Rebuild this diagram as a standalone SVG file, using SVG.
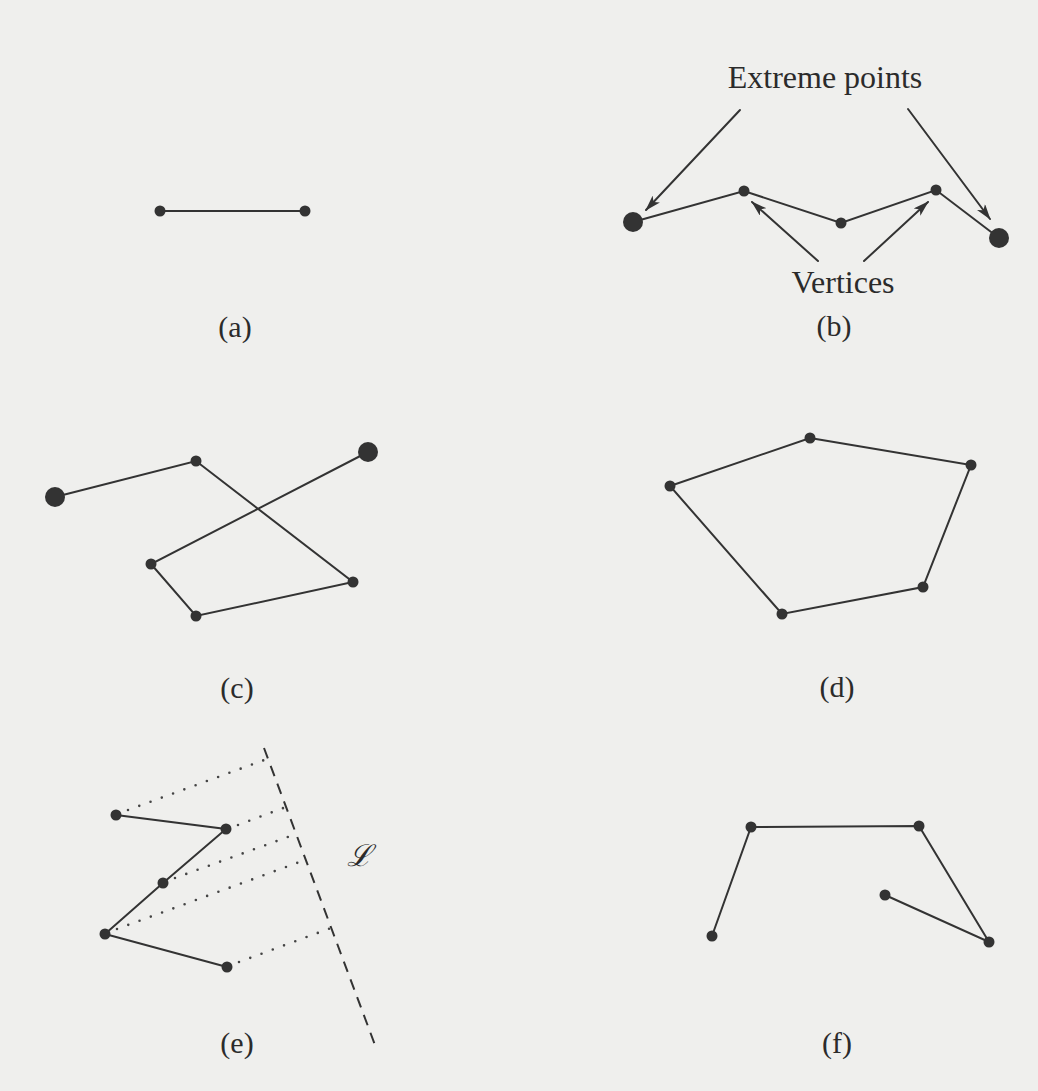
<svg xmlns="http://www.w3.org/2000/svg" width="1038" height="1091" viewBox="0 0 1038 1091">
<style>
.e{stroke:#333;stroke-width:2;fill:none;stroke-linecap:round}
.v{fill:#333}
.t{font-family:"Liberation Serif","DejaVu Serif",serif;fill:#2b2b2b;font-size:30px;text-anchor:middle}
.big{font-size:32px}
.dot{stroke:#444;stroke-width:2.6;fill:none;stroke-dasharray:0 12;stroke-linecap:round}
.dash{stroke:#333;stroke-width:2;fill:none;stroke-dasharray:11 8}
</style>
<defs>
<marker id="ah" markerWidth="16" markerHeight="10" refX="15" refY="5" orient="auto" markerUnits="userSpaceOnUse">
<path d="M0,0 L16,5 L0,10 L4,5 Z" fill="#333"/>
</marker>
</defs>
<rect width="1038" height="1091" fill="#efefed"/>

<g id="connectors">
<!-- a -->
<line class="e" x1="160" y1="211" x2="305" y2="211"/>
<!-- b -->
<polyline class="e" points="633,222 744,191 841,223 936,190 999,238"/>
<line class="e" x1="740" y1="110" x2="646" y2="210" marker-end="url(#ah)"/>
<line class="e" x1="908" y1="109" x2="990" y2="219" marker-end="url(#ah)"/>
<line class="e" x1="818" y1="261" x2="752" y2="202" marker-end="url(#ah)"/>
<line class="e" x1="864" y1="261" x2="928" y2="202" marker-end="url(#ah)"/>
<!-- c -->
<polyline class="e" points="55,497 196,461 353,582 196,616 151,564 368,452"/>
<!-- d -->
<polygon class="e" points="810,438 971,465 923,587 782,614 670,486"/>
<!-- e -->
<polyline class="e" points="116,815 226,829 163,883 105,934 227,967"/>
<line class="dash" x1="264" y1="748" x2="375" y2="1045"/>
<line class="dot" x1="128" y1="810" x2="267" y2="759"/>
<line class="dot" x1="238" y1="825" x2="286" y2="807"/>
<line class="dot" x1="175" y1="878" x2="296" y2="834"/>
<line class="dot" x1="117" y1="929" x2="305" y2="860"/>
<line class="dot" x1="239" y1="962" x2="331" y2="928"/>
<!-- f -->
<polyline class="e" points="712,936 751,827 919,826 989,942 885,895"/>
</g>

<g id="a">
<circle class="v" cx="160" cy="211" r="5.5"/>
<circle class="v" cx="305" cy="211" r="5.5"/>
<text class="t" x="235" y="337">(a)</text>
</g>

<g id="b">
<circle class="v" cx="633" cy="222" r="10"/>
<circle class="v" cx="744" cy="191" r="5.5"/>
<circle class="v" cx="841" cy="223" r="5.5"/>
<circle class="v" cx="936" cy="190" r="5.5"/>
<circle class="v" cx="999" cy="238" r="10"/>
<text class="t big" x="825" y="88">Extreme points</text>
<text class="t big" x="843" y="293">Vertices</text>
<text class="t" x="834" y="336">(b)</text>
</g>

<g id="c">
<circle class="v" cx="55" cy="497" r="10"/>
<circle class="v" cx="196" cy="461" r="5.5"/>
<circle class="v" cx="368" cy="452" r="10"/>
<circle class="v" cx="151" cy="564" r="5.5"/>
<circle class="v" cx="196" cy="616" r="5.5"/>
<circle class="v" cx="353" cy="582" r="5.5"/>
<text class="t" x="237" y="698">(c)</text>
</g>

<g id="d">
<circle class="v" cx="810" cy="438" r="5.5"/>
<circle class="v" cx="971" cy="465" r="5.5"/>
<circle class="v" cx="923" cy="587" r="5.5"/>
<circle class="v" cx="782" cy="614" r="5.5"/>
<circle class="v" cx="670" cy="486" r="5.5"/>
<text class="t" x="837" y="697">(d)</text>
</g>

<g id="e">
<circle class="v" cx="116" cy="815" r="5.5"/>
<circle class="v" cx="226" cy="829" r="5.5"/>
<circle class="v" cx="163" cy="883" r="5.5"/>
<circle class="v" cx="105" cy="934" r="5.5"/>
<circle class="v" cx="227" cy="967" r="5.5"/>
<text class="t" x="359" y="866" style="font-size:30px;font-style:italic">ℒ</text>
<text class="t" x="237" y="1053">(e)</text>
</g>

<g id="f">
<circle class="v" cx="751" cy="827" r="5.5"/>
<circle class="v" cx="919" cy="826" r="5.5"/>
<circle class="v" cx="712" cy="936" r="5.5"/>
<circle class="v" cx="885" cy="895" r="5.5"/>
<circle class="v" cx="989" cy="942" r="5.5"/>
<text class="t" x="837" y="1053">(f)</text>
</g>
</svg>
